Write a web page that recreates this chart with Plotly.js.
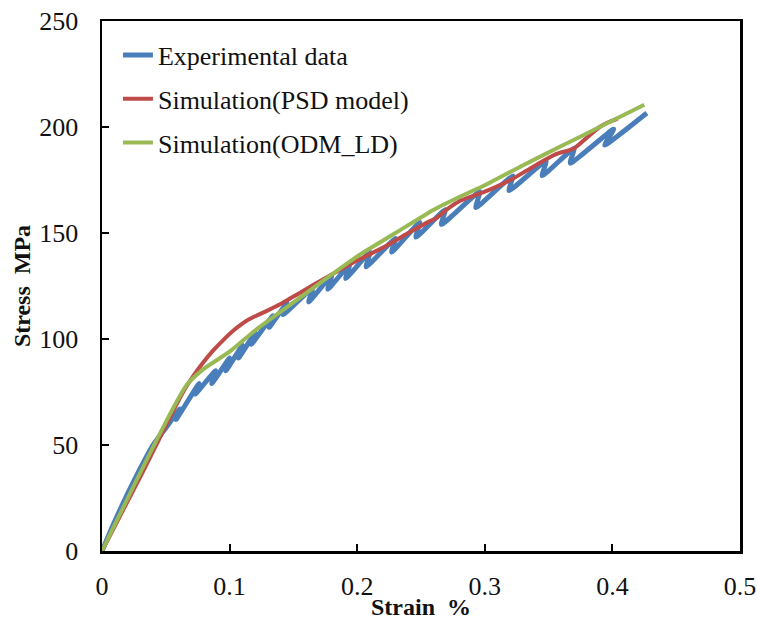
<!DOCTYPE html>
<html>
<head>
<meta charset="utf-8">
<script src="https://cdn.plot.ly/plotly-3.0.1.min.js"></script>
<style>html,body{margin:0;padding:0;background:#fff;}#chart{width:757px;height:620px;}</style>
</head>
<body>
<div id="chart"></div>
<script>
// Experimental data (strain %, stress MPa): rising segments with small unload drops
var expStrain = [0, 0.010, 0.020, 0.030, 0.040, 0.050, 0.061, 0.058, 0.076, 0.073, 0.089, 0.086, 0.100, 0.097, 0.110, 0.107, 0.120, 0.117, 0.134, 0.131, 0.145, 0.142, 0.165, 0.162, 0.180, 0.177, 0.194, 0.191, 0.210, 0.207, 0.230, 0.227, 0.249, 0.246, 0.269, 0.266, 0.296, 0.293, 0.322, 0.319, 0.348, 0.345, 0.370, 0.367, 0.401, 0.394, 0.427];
var expStress = [0, 14, 27, 39, 50, 58, 67, 62, 79, 74, 85, 79, 91, 85, 97, 91, 103, 97.5, 111, 105.5, 117, 111.5, 124, 117.5, 130, 123.5, 135, 128.5, 141, 134, 147.5, 141, 155, 148, 161, 154, 169.5, 162, 177, 170, 184, 177, 190, 183, 199, 191.5, 206.6];

// Simulation (PSD model)
var psdStrain = [0, 0.030, 0.060, 0.066, 0.072, 0.079, 0.087, 0.095, 0.103, 0.113, 0.121, 0.130, 0.140, 0.150, 0.170, 0.200, 0.220, 0.240, 0.255, 0.262, 0.270, 0.280, 0.300, 0.320, 0.340, 0.355, 0.370, 0.380, 0.390, 0.396, 0.404];
var psdStress = [0, 35, 71, 77.5, 83, 88.7, 94.5, 99.5, 104, 108.5, 111, 113.5, 116.5, 120, 127, 137, 143, 150, 155, 157, 161, 165, 169.5, 175, 182, 187, 190, 195, 200, 202, 204];

// Simulation (ODM_LD)
var odmStrain = [0, 0.066, 0.080, 0.100, 0.120, 0.145, 0.170, 0.200, 0.230, 0.260, 0.280, 0.300, 0.330, 0.360, 0.390, 0.410, 0.425];
var odmStress = [0, 78, 86, 94, 104, 115, 126, 139, 150, 161, 167, 172.5, 182, 191, 200, 206, 210.5];

var seriesNames = ['Experimental data', 'Simulation(PSD model)', 'Simulation(ODM_LD)'];
var xTicks = [0, 0.1, 0.2, 0.3, 0.4, 0.5];
var xTickText = ['0', '0.1', '0.2', '0.3', '0.4', '0.5'];
var yTicks = [0, 50, 100, 150, 200, 250];
var yTickText = ['0', '50', '100', '150', '200', '250'];

var serif = 'Liberation Serif, Times New Roman, serif';

var traces = [
  {x: expStrain, y: expStress, name: seriesNames[0], mode: 'lines', legendgroup: 'a',
   line: {color: '#4A7EBB', width: 5, shape: 'spline', smoothing: 0.5}},
  {x: psdStrain, y: psdStress, name: seriesNames[1], mode: 'lines', legendgroup: 'b',
   line: {color: '#BE4B48', width: 4, shape: 'spline', smoothing: 0.8}},
  {x: odmStrain, y: odmStress, name: seriesNames[2], mode: 'lines', legendgroup: 'c',
   line: {color: '#98B954', width: 4, shape: 'spline', smoothing: 0.6}}
];

var layout = {
  width: 757, height: 620,
  margin: {l: 102, r: 17, t: 21, b: 69, pad: 0},
  paper_bgcolor: '#ffffff', plot_bgcolor: '#ffffff',
  font: {family: serif, size: 26, color: '#111111'},
  showlegend: true,
  legend: {x: 0.025, y: 0.98, xanchor: 'left', yanchor: 'top',
    bgcolor: 'rgba(0,0,0,0)', font: {family: serif, size: 26, color: '#111111'},
    tracegroupgap: 7, itemwidth: 30, traceorder: 'grouped'},
  xaxis: {
    range: [0, 0.5], tickvals: xTicks, ticktext: xTickText,
    showgrid: false, zeroline: false,
    showline: true, linecolor: '#000', linewidth: 2.5, mirror: true,
    ticks: 'inside', ticklen: 7, tickwidth: 2, tickcolor: '#000',
    ticklabelstandoff: 10,
    tickfont: {family: serif, size: 26, color: '#111111'},
    title: {text: '<b>Strain \u00a0%</b>', standoff: 2, font: {family: serif, size: 24, color: '#111111'}},
    automargin: false
  },
  yaxis: {
    range: [0, 250], tickvals: yTicks, ticktext: yTickText,
    showgrid: false, zeroline: false,
    showline: true, linecolor: '#000', linewidth: 2.5, mirror: true,
    ticks: 'inside', ticklen: 7, tickwidth: 2, tickcolor: '#000',
    ticklabelstandoff: 16,
    tickfont: {family: serif, size: 26, color: '#111111'},
    title: {text: '<b>Stress \u00a0MPa</b>', standoff: 2, font: {family: serif, size: 24, color: '#111111'}},
    automargin: false
  }
};

Plotly.newPlot('chart', traces, layout, {displayModeBar: false, staticPlot: true});
</script>
</body>
</html>
